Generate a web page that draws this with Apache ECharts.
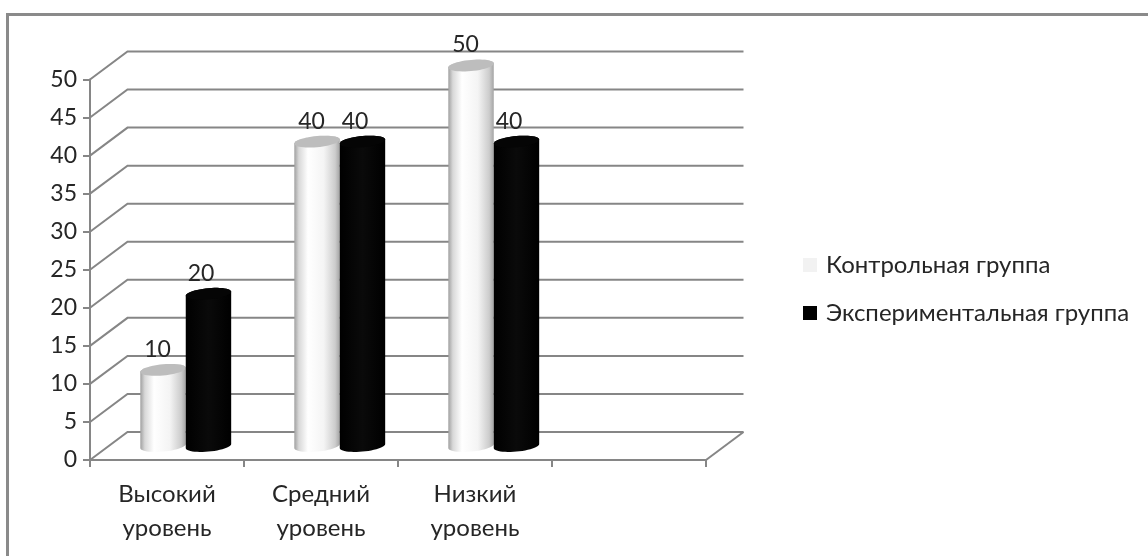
<!DOCTYPE html>
<html>
<head>
<meta charset="utf-8">
<style>html,body{margin:0;padding:0;background:#fff}#c{width:1148px;height:556px}</style>
<script src="https://cdn.jsdelivr.net/npm/echarts@6/dist/echarts.min.js"></script>
</head>
<body>
<div id="c"></div>
<script>
const categories = ['Высокий\nуровень', 'Средний\nуровень', 'Низкий\nуровень', ''];
const controlName = 'Контрольная группа';
const experimentName = 'Экспериментальная группа';
const controlValues = [10, 40, 50, null];
const experimentValues = [20, 40, 40, null];
const wallTicks = [0, 5, 10, 15, 20, 25, 30, 35, 40, 45, 50];

const FONT = 'Lato, "Open Sans", sans-serif';
const TEXT = '#262626';
const LINE = '#868686';
const DEPTH_X = 37.5, DEPTH_Y = 28;

const chart = echarts.init(document.getElementById('c'), null, {renderer: 'canvas'});

function ellipsePoints(cx, cy, rx, ry, shear, from, to, n) {
  const pts = [];
  for (let i = 0; i <= n; i++) {
    const t = from + (to - from) * i / n;
    const ex = rx * Math.cos(t);
    pts.push([cx + ex, cy + ry * Math.sin(t) - shear * ex]);
  }
  return pts;
}

function cylinder(side, bodyFill, capFill, labelShift) {
  return function (params, api) {
    const val = api.value(1);
    if (val == null || isNaN(val)) return;
    const cat = api.value(0);
    const top = api.coord([cat, val]);
    const base = api.coord([cat, 0]);
    const catW = api.size([1, 0])[0];
    const w = catW * 0.295;
    const cx = top[0] + DEPTH_X / 2 + side * w / 2;
    const topY = top[1] - DEPTH_Y / 2;
    const baseY = base[1] - DEPTH_Y / 2;
    const rx = w / 2, ry = 5.6, shear = 0.09;
    const body = ellipsePoints(cx, baseY, rx, ry, shear, 0, Math.PI, 24)
      .concat(ellipsePoints(cx, topY, rx, ry, shear, Math.PI, 2 * Math.PI, 24));
    const cap = ellipsePoints(cx, topY, rx, ry, shear, 0, 2 * Math.PI, 48);
    return {
      type: 'group',
      children: [
        {type: 'polygon', shape: {points: body}, style: {fill: bodyFill}},
        {type: 'polygon', shape: {points: cap}, style: {fill: capFill}},
        {type: 'text', z2: 10, style: {
          text: String(val), x: cx + labelShift, y: topY - 20.5,
          align: 'center', verticalAlign: 'middle',
          font: '23px ' + FONT, fill: TEXT
        }}
      ]
    };
  };
}

const whiteFill = new echarts.graphic.LinearGradient(0, 0, 1, 0, [
  {offset: 0, color: '#a0a0a0'},
  {offset: 0.1, color: '#d8d8d8'},
  {offset: 0.3, color: '#ffffff'},
  {offset: 0.65, color: '#f4f4f4'},
  {offset: 0.9, color: '#cccccc'},
  {offset: 1, color: '#a4a4a4'}
]);
const blackFill = new echarts.graphic.LinearGradient(0, 0, 1, 0, [
  {offset: 0, color: '#000000'},
  {offset: 0.5, color: '#0a0a0a'},
  {offset: 1, color: '#000000'}
]);

chart.setOption({
  animation: false,
  backgroundColor: '#ffffff',
  textStyle: {fontFamily: FONT},
  graphic: [
    {type: 'line', silent: true, shape: {x1: 6, y1: 14.5, x2: 1148, y2: 14.5}, style: {stroke: '#8a8a8a', lineWidth: 3}},
    {type: 'line', silent: true, shape: {x1: 7.5, y1: 13, x2: 7.5, y2: 556}, style: {stroke: '#8a8a8a', lineWidth: 3}}
  ],
  legend: {
    orient: 'vertical', left: 803, top: 251, padding: 0, itemGap: 20,
    itemWidth: 14, itemHeight: 14, icon: 'rect', selectedMode: false,
    data: [controlName, experimentName],
    textStyle: {fontFamily: FONT, fontSize: 24, color: TEXT, padding: [0, 0, 0, 4], lineHeight: 28}
  },
  grid: {left: 90, right: 442, top: 79.5, bottom: 96},
  xAxis: {
    type: 'category', data: categories, boundaryGap: true,
    axisLine: {show: true, lineStyle: {color: LINE, width: 2}},
    axisTick: {show: true, length: 7, lineStyle: {color: LINE, width: 2}},
    axisLabel: {interval: 0, margin: 17, fontFamily: FONT, fontSize: 24, color: TEXT, lineHeight: 34},
    splitLine: {show: false}
  },
  yAxis: {
    type: 'value', min: 0, max: 50, interval: 5,
    axisLine: {show: true, lineStyle: {color: LINE, width: 2}},
    axisTick: {show: true, length: 7, lineStyle: {color: LINE, width: 2}},
    axisLabel: {margin: 13, fontFamily: FONT, fontSize: 23, color: TEXT},
    splitLine: {show: false}
  },
  series: [
    {
      type: 'custom', silent: true, z: 1, legendHoverLink: false,
      data: wallTicks.map(v => [0, v]),
      encode: {x: 0, y: 1},
      clip: false,
      renderItem: function (params, api) {
        const v = api.value(1);
        const sys = params.coordSys;
        const y = api.coord([0, v])[1];
        const left = sys.x, right = sys.x + sys.width;
        const style = {stroke: LINE, lineWidth: 2, fill: 'none'};
        const children = [{
          type: 'polyline', style: style,
          shape: {points: [[left, y], [left + DEPTH_X, y - DEPTH_Y], [right + DEPTH_X, y - DEPTH_Y]]}
        }];
        if (v === 0) {
          children.push({type: 'line', style: style,
            shape: {x1: right, y1: y, x2: right + DEPTH_X, y2: y - DEPTH_Y}});
        }
        return {type: 'group', children: children};
      }
    },
    {
      name: controlName, type: 'custom', z: 2, clip: false,
      itemStyle: {color: '#f2f2f2'},
      data: controlValues.map((v, i) => [i, v]),
      encode: {x: 0, y: 1},
      renderItem: cylinder(-1, whiteFill, '#bdbdbd', -5.5)
    },
    {
      name: experimentName, type: 'custom', z: 3, clip: false,
      itemStyle: {color: '#000000'},
      data: experimentValues.map((v, i) => [i, v]),
      encode: {x: 0, y: 1},
      renderItem: cylinder(1, blackFill, '#050505', -7.5)
    }
  ]
});
</script>
</body>
</html>
